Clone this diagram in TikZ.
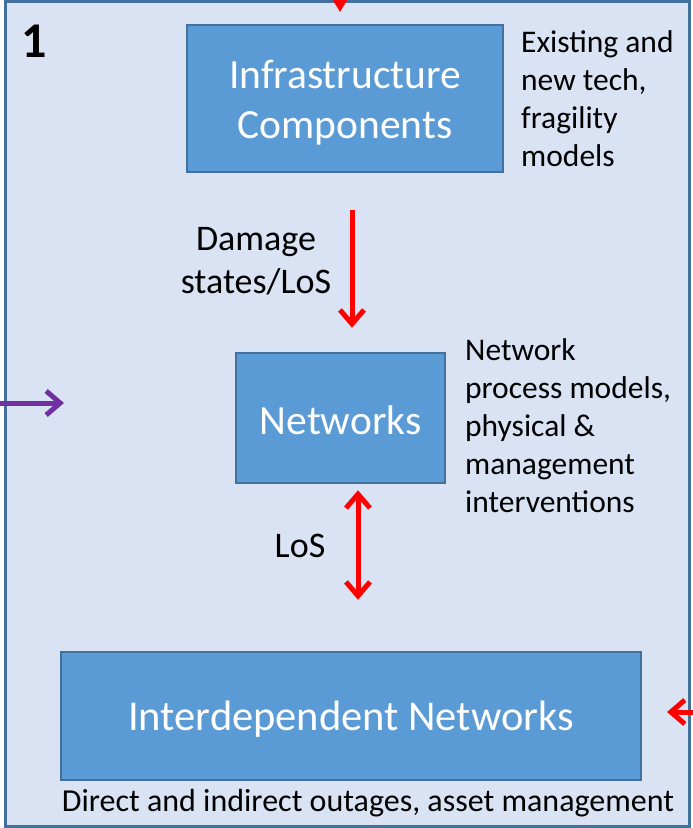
\documentclass[tikz,border=0pt]{standalone}
\usepackage{fontspec}
\setmainfont{Carlito}
\usetikzlibrary{arrows.meta}
\definecolor{bgblue}{HTML}{DAE3F3}
\definecolor{boxfill}{HTML}{5B9BD5}
\definecolor{boxline}{HTML}{41719C}
\definecolor{arrred}{HTML}{FF0000}
\definecolor{arrpurple}{HTML}{7030A0}
\begin{document}
\begin{tikzpicture}[x=1pt,y=-1pt,
  comp/.style={draw=boxline, line width=2.5pt, fill=boxfill, inner sep=0pt},
  comptext/.style={text=white, align=center, inner sep=0pt, font=\fontsize{41.5}{50}\selectfont},
  note/.style={align=left, anchor=north west, inner sep=0pt, font=\fontsize{31.5}{38}\selectfont},
  lab/.style={align=center, inner sep=0pt, font=\fontsize{36}{43}\selectfont},
  barb/.style={line width=5pt, line join=miter, -{Straight Barb[length=14pt,width=24pt]}},
  dbarb/.style={line width=5pt, line join=miter, {Straight Barb[length=14pt,width=24pt]}-{Straight Barb[length=14pt,width=24pt]}}]
\useasboundingbox (0,0) rectangle (693,828);
\node[draw=boxline, line width=3pt, fill=bgblue, minimum width=684pt, minimum height=825pt, inner sep=0pt] (frame) at (347,413.5) {};
\node[font=\fontsize{50}{56}\selectfont\bfseries, inner sep=0pt] (num) at (34,41) {1};
\node[comp, minimum width=316pt, minimum height=147pt] (infra) at (345,98.5) {};
\node[comptext] (infratext) at ([yshift=-4pt]infra.center) {Infrastructure\\Components};
\node[comp, minimum width=209pt, minimum height=130pt] (networks) at (340.5,418) {};
\node[comptext] (networkstext) at ([yshift=-2pt]networks.center) {Networks};
\node[comp, minimum width=580pt, minimum height=128pt] (interdep) at (351,716) {};
\node[comptext, font=\fontsize{42.5}{50}\selectfont] (interdeptext) at ([yshift=-3pt]interdep.center) {Interdependent Networks};
\node[note] (infranote) at (521,30) {Existing and\\new tech,\\fragility\\models};
\node[note] (netnote) at (465,338) {Network\\process models,\\physical \&\\management\\interventions};
\node[lab] (damagelab) at (256,261.5) {Damage\\states/LoS};
\node[lab] (loslab) at (300,546) {LoS};
\node[inner sep=0pt, font=\fontsize{32}{38}\selectfont] (bottomnote) at (368,803) {Direct and indirect outages, asset management};
\coordinate (topsrc) at (340,-30);
\coordinate (toptip) at (340,12);
\coordinate (leftsrc) at (-10,403);
\coordinate (lefttip) at (64,403);
\coordinate (rightsrc) at (710,712);
\coordinate (righttip) at (667,712);
\draw[arrred, line width=5pt, -{Triangle[length=24pt,width=28pt]}] (topsrc) -- (toptip);
\draw[arrred, barb] ([xshift=7pt,yshift=-37pt]infra.south) -- ([xshift=11.5pt,yshift=24pt]networks.north);
\draw[arrred, dbarb] ([xshift=17.5pt,yshift=-6pt]networks.south) -- ([xshift=7pt,yshift=51pt]interdep.north);
\draw[arrpurple, barb] (leftsrc) -- (lefttip);
\draw[arrred, barb] (rightsrc) -- (righttip);
\end{tikzpicture}
\end{document}
